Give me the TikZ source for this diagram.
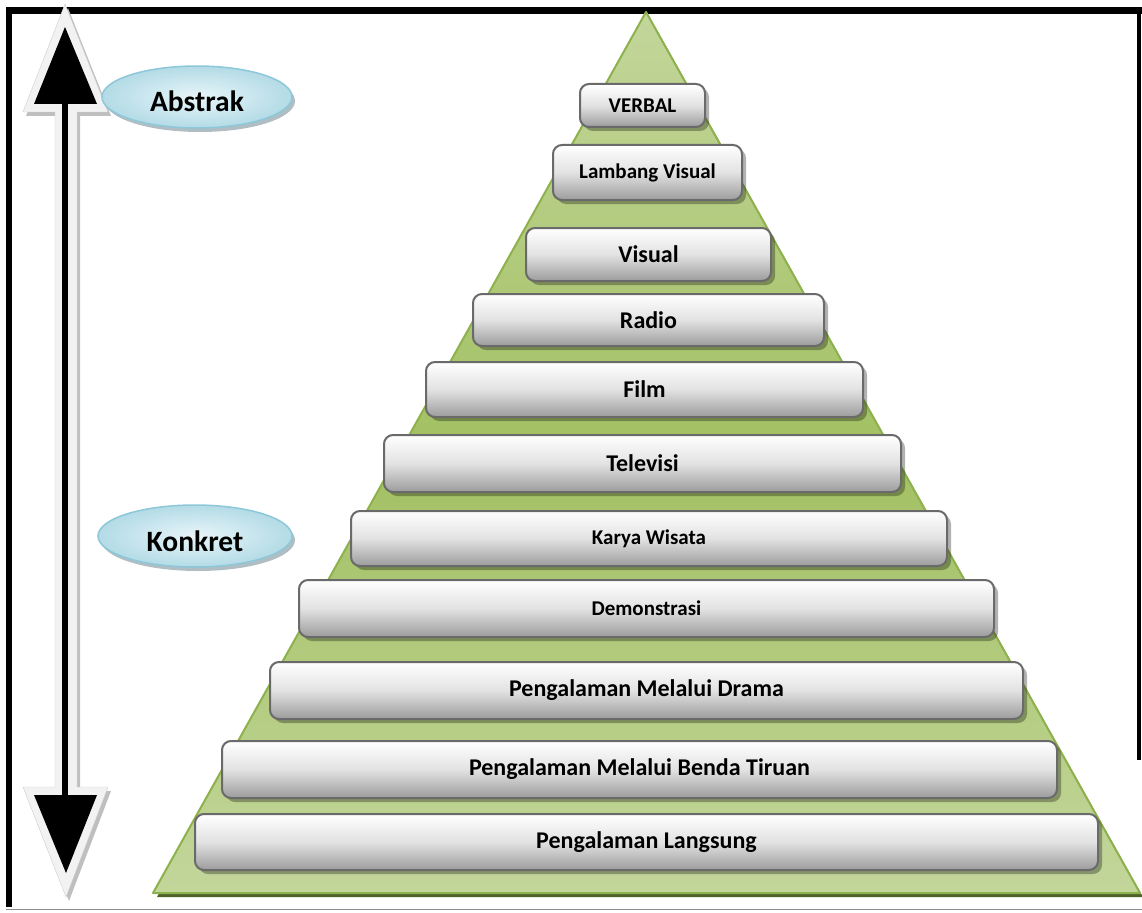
\documentclass[tikz,border=0pt]{standalone}
\usepackage{fontspec}
\setmainfont{Carlito}
\usetikzlibrary{shapes.geometric,shadows}

\definecolor{framegray}{HTML}{8C8C8C}
\definecolor{arrowpale}{HTML}{F2F2F2}
\definecolor{arrowshade}{HTML}{BFBFBF}
\definecolor{pyrlight}{HTML}{C3D69B}
\definecolor{pyrmid}{HTML}{A2C062}
\definecolor{pyredge}{HTML}{8DB14C}
\definecolor{pyrdark}{HTML}{4F6228}
\definecolor{boxedge}{HTML}{6A6A6A}
\definecolor{boxlow}{HTML}{9C9C9C}
\definecolor{boxmid}{HTML}{E2E2E2}
\definecolor{ovalin}{HTML}{E8F5F9}
\definecolor{ovalout}{HTML}{B3DBE6}
\definecolor{ovaledge}{HTML}{8CC8D9}
\definecolor{ovalshade}{HTML}{8FA3AB}

\tikzset{
  level/.style={rectangle, rounded corners=9pt, draw=boxedge, line width=2pt,
    top color=white, bottom color=boxlow, middle color=boxmid,
    drop shadow={shadow xshift=4pt, shadow yshift=-4pt, opacity=0.3, fill=black},
    font=\bfseries, text=black, inner sep=0pt},
  oval/.style={ellipse, draw=ovaledge, line width=1.5pt,
    inner color=ovalin, outer color=ovalout,
    drop shadow={shadow xshift=3pt, shadow yshift=-4pt, opacity=0.7, fill=ovalshade},
    inner sep=0pt},
  ovaltext/.style={font=\fontsize{29.5}{31}\selectfont\bfseries, text=black, inner sep=0pt},
  small/.style={font=\fontsize{21}{23}\selectfont\bfseries},
  large/.style={font=\fontsize{24}{26}\selectfont\bfseries},
}

\begin{document}
\begin{tikzpicture}[x=1pt,y=-1pt]
\useasboundingbox (0,0) rectangle (1142,912);

% frame
\draw[line width=7pt] (6,10.5) -- (1142,10.5);
\draw[line width=6pt] (9,7) -- (9,907);
\draw[line width=4pt] (1139,7) -- (1139,760);
\draw[framegray, line width=1.5pt] (6,909.5) -- (1142,909.5);

% double-headed arrow: pale outline with shadow, then black core
\fill[arrowshade, shift={(3pt,-4pt)}]
  (65,4) -- (108,112) -- (77,112) -- (77,787) -- (108,787) -- (66,897)
  -- (23,787) -- (55,787) -- (55,112) -- (23,112) -- cycle;
\filldraw[fill=arrowpale, draw=arrowpale!85!black, line width=0.4pt]
  (65,4) -- (108,112) -- (77,112) -- (77,787) -- (108,787) -- (66,897)
  -- (23,787) -- (55,787) -- (55,112) -- (23,112) -- cycle;
\fill[black] (65,27) -- (97,104) -- (34,104) -- cycle;
\fill[black] (62,100) rectangle (68,800);
\fill[black] (34,795) -- (97,795) -- (66,873) -- cycle;

% labels on the arrow
\node[oval, minimum width=190pt, minimum height=62pt] (abstrak) at (197,97) {};
\node[ovaltext] (abstrak-t) at ([yshift=-4pt]abstrak.center) {Abstrak};
\node[oval, minimum width=194pt, minimum height=62pt] (konkret) at (195,536) {};
\node[ovaltext] (konkret-t) at ([yshift=-5pt]konkret.center) {Konkret};

% pyramid
\fill[pyrdark] (649,16) -- (1143,897) -- (157,897) -- cycle;
\fill[top color=pyrlight, bottom color=pyrlight, middle color=pyrmid]
  (646,12) -- (1140,893) -- (153,893) -- cycle;
\draw[pyredge, line width=2pt, line join=round] (646,12) -- (1140,893) -- (153,893) -- cycle;

% levels, top to bottom
\node[level, small, minimum width=125pt, minimum height=43pt] (l1) at (642.5,105.5) {VERBAL};
\node[level, small, minimum width=189pt, minimum height=55pt] (l2) at (647.5,172.5) {Lambang Visual};
\node[level, large, minimum width=245pt, minimum height=53pt] (l3) at (648.5,254.5) {Visual};
\node[level, large, minimum width=351pt, minimum height=52pt] (l4) at (648.5,320) {Radio};
\node[level, large, minimum width=437pt, minimum height=55pt] (l5) at (644.5,389.5) {Film};
\node[level, large, minimum width=517pt, minimum height=57pt] (l6) at (642.5,463.5) {Televisi};
\node[level, small, minimum width=596pt, minimum height=55pt] (l7) at (649,538.5) {Karya Wisata};
\node[level, small, minimum width=695pt, minimum height=57pt] (l8) at (646.5,608.5) {Demonstrasi};
\node[level, large, minimum width=753pt, minimum height=57pt] (l9) at (646.5,690.5) {Pengalaman Melalui Drama};
\node[level, large, minimum width=835pt, minimum height=57pt] (l10) at (639.5,769.5) {Pengalaman Melalui Benda Tiruan};
\node[level, large, minimum width=903pt, minimum height=56pt] (l11) at (646.5,842) {Pengalaman Langsung};
\end{tikzpicture}
\end{document}
